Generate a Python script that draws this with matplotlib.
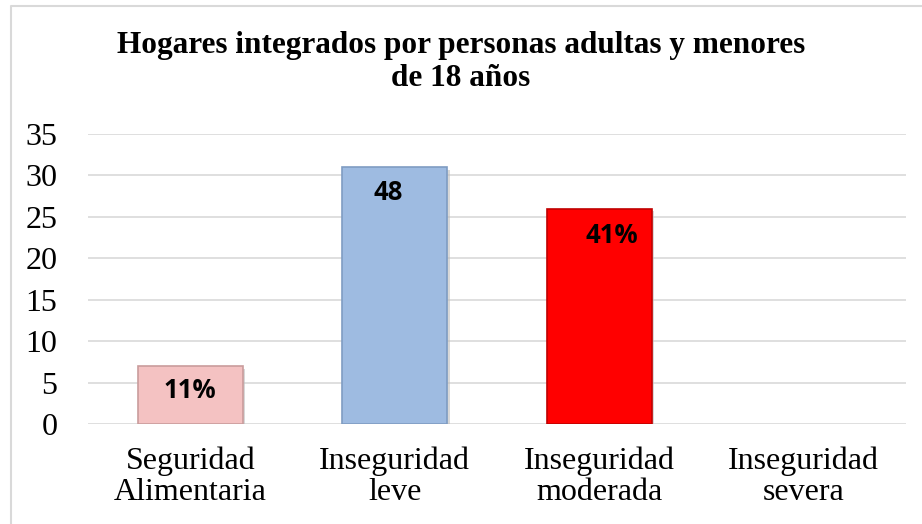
import numpy as np
import matplotlib.pyplot as plt
from matplotlib.lines import Line2D
from matplotlib.patches import Rectangle

categorias = ["Seguridad\nAlimentaria", "Inseguridad\nleve", "Inseguridad\nmoderada", "Inseguridad\nsevera"]
valores = [7, 31, 26, 0]
etiquetas = ["11%", "48", "41%", ""]
colores = ["#F4C2C2", "#9EBBE1", "#FF0000", "#FF0000"]
bordes = ["#C99C9C", "#7F9CC2", "#C00000", "#C00000"]
titulo = "Hogares integrados por personas adultas y menores\nde 18 años"

W, H = 922, 524
fig = plt.figure(figsize=(W / 100, H / 100), dpi=100)
# marco del grafico (recortado por la derecha y abajo)
fig.lines.append(Line2D([10.5 / W, 10.5 / W, 1], [0, 1 - 5.5 / H, 1 - 5.5 / H],
                        transform=fig.transFigure, color="#D9D9D9", linewidth=1.5))
ax = fig.add_axes([88 / W, 1 - 424 / H, 818 / W, 290 / H])

x = np.arange(len(categorias))
anchos = [1.2 if v > 0 else 0 for v in valores]
barras = ax.bar(x, valores, width=0.515, color=colores, edgecolor=bordes,
                linewidth=anchos, zorder=3)
# sombra ligera detras de cada barra
for b, v in zip(barras, valores):
    if v > 0:
        ax.add_patch(Rectangle((b.get_x() + 0.012, -0.35), b.get_width(), v,
                               facecolor="#BFBFBF", edgecolor="none", alpha=0.6, zorder=2))

offs = [(0, -3.0), (-0.03, -3.1), (0.06, -3.3), (0, 0)]
for xi, v, t, (dx, dy) in zip(x, valores, etiquetas, offs):
    if t:
        ax.text(xi + dx, v + dy, t, ha="center", va="center", fontsize=18.5,
                fontweight="bold", family=["Open Sans", "DejaVu Sans"], zorder=4)

ax.set_ylim(0, 35)
ax.set_xlim(-0.5, 3.5)
ax.set_yticks(range(0, 36, 5))
ax.yaxis.grid(True, color="#D9D9D9", linewidth=1.2, zorder=0)
ax.set_axisbelow(True)
for s in ax.spines.values():
    s.set_visible(False)
ax.tick_params(length=0)
ax.tick_params(axis="y", pad=22)
ax.tick_params(axis="x", pad=16)
ax.set_xticks(x)
ax.set_xticklabels(categorias, family="Liberation Serif", fontsize=23, linespacing=1.12)
for lbl in ax.get_yticklabels():
    lbl.set_family("Liberation Serif")
    lbl.set_fontsize(23)

fig.text(0.5, 1 - 62 / H, titulo, ha="center", va="center", family="Liberation Serif",
         fontweight="bold", fontsize=22.5, linespacing=1.22)

fig.savefig("out.png", dpi=100)
